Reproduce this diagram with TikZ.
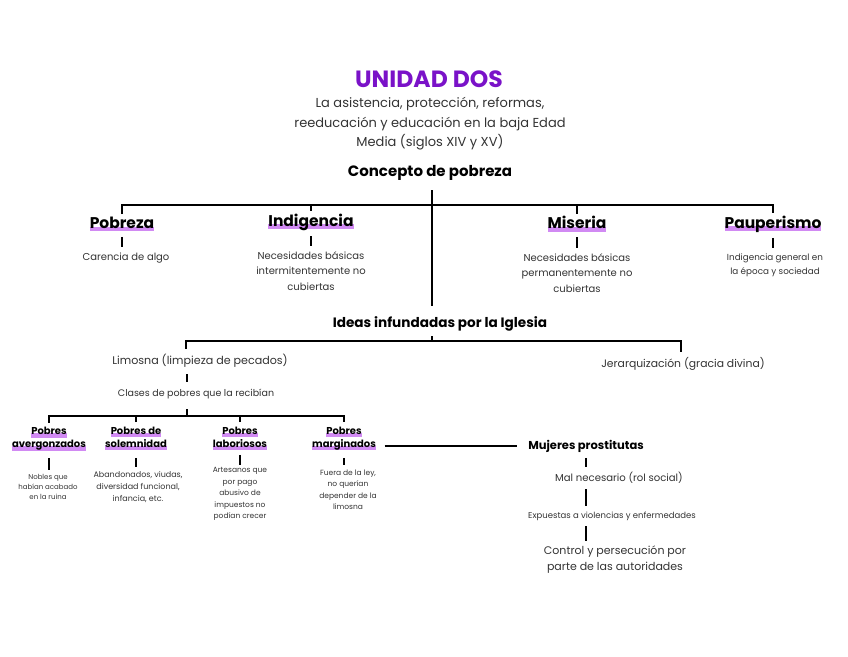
\documentclass[tikz,border=0pt]{standalone}
\usepackage{fontspec}
\setmainfont{Poppins}
\usepackage{tikz}
\usetikzlibrary{positioning}

\definecolor{titlepurple}{HTML}{7A12C8}
\definecolor{hlpurple}{HTML}{D18AF3}
\definecolor{inkgray}{HTML}{333333}

% purple marker under a word
\newlength\mkwd
\newcommand\mk[1]{\settowidth\mkwd{#1}\rlap{\textcolor{hlpurple}{\rule[-2.8pt]{\mkwd}{4.5pt}}}#1}

\begin{document}
\begin{tikzpicture}[x=1pt, y=-1pt, line width=1.4pt,
  every node/.style={inner sep=0pt, text=inkgray},
  head/.style={font=\bfseries\fontsize{15.5}{18}\selectfont, text=black},
  sub/.style={font=\bfseries\fontsize{10}{13}\selectfont, text=black, align=center},
  desc/.style={font=\fontsize{10}{15.5}\selectfont, align=center},
  small/.style={font=\fontsize{7.5}{11.5}\selectfont, align=center},
  stem/.style={shorten <=5pt, shorten >=5pt}]
  \useasboundingbox (0,0) rectangle (848,656);
  % title block
  \node[font=\bfseries\fontsize{23.5}{26}\selectfont, text=titlepurple] (titulo) at (429,79) {UNIDAD DOS};
  \node[font=\fontsize{13}{19.5}\selectfont, align=center] (subtitulo) at (430,124)
    {La asistencia, protección, reformas,\\ reeducación y educación en la baja Edad\\ Media (siglos XIV y XV)};
  \node[font=\bfseries\fontsize{15}{18}\selectfont, text=black] (concepto) at (430,173) {Concepto de pobreza};
  % first level
  \coordinate (barra1) at (432,205);
  \node[head] (pobreza) at (122,224) {\mk{Pobreza}};
  \node[head] (indig) at (311,222) {\mk{Indigencia}};
  \node[head] (miseria) at (577,224) {\mk{Miseria}};
  \node[head] (pauper) at (773,224) {\mk{Pauperismo}};
  \draw ([yshift=2pt]pobreza.north) -- (pobreza.north |- barra1) -- (pauper.north |- barra1) -- ([yshift=2pt]pauper.north);
  \foreach \n in {indig, miseria}
    \draw ([yshift=2pt]\n.north) -- (\n.north |- barra1);
  \node[desc] (carencia) at (126,258) {Carencia de algo};
  \node[desc] (necint) at (311,271) {Necesidades básicas\\ intermitentemente no\\ cubiertas};
  \node[desc] (necperm) at (577,273) {Necesidades básicas\\ permanentemente no\\ cubiertas};
  \node[desc, font=\fontsize{8.8}{14}\selectfont] (indgen) at (775,265) {Indigencia general en\\ la época y sociedad};
  \draw[stem] (pobreza.south) -- (pobreza.south |- carencia.north);
  \draw[stem] (indig.south) -- (indig.south |- necint.north);
  \draw[stem] (miseria.south) -- (miseria.south |- necperm.north);
  \draw[stem] (pauper.south) -- (pauper.south |- indgen.north);
  % ideas of the Church
  \node[font=\bfseries\fontsize{13.6}{16}\selectfont, text=black] (ideas) at (440,324) {Ideas infundadas por la Iglesia};
  \draw[shorten <=9pt, shorten >=10pt] (concepto.south -| barra1) -- (ideas.north -| barra1);
  \coordinate (barra2) at (432,341);
  \node[font=\fontsize{11.1}{14}\selectfont] (limosna) at (200,361) {Limosna (limpieza de pecados)};
  \node[font=\fontsize{10.8}{13}\selectfont] (jerarq) at (683,364) {Jerarquización (gracia divina)};
  \draw ([xshift=-14pt,yshift=5pt]limosna.north) -- ([xshift=-14pt]limosna.north |- barra2)
    -- ([xshift=-2pt]jerarq.north |- barra2) -- ([xshift=-2pt,yshift=5pt]jerarq.north);
  \draw[shorten >=4pt] (barra2) -- (barra2 |- ideas.south);
  \node[font=\fontsize{9.5}{12}\selectfont] (clases) at (196,394) {Clases de pobres que la recibían};
  \draw[shorten <=6pt, shorten >=6pt] ([xshift=-13pt]limosna.south) -- ([xshift=-13pt]limosna.south |- clases.north);
  % kinds of poor
  \coordinate (barra3) at (187,416);
  \node[sub] (avergon) at (49,439) {\mk{Pobres}\\ \mk{avergonzados}};
  \node[sub] (solemn) at (136,438.5) {\mk{Pobres de}\\ \mk{solemnidad}};
  \node[sub] (labor) at (240,438.5) {\mk{Pobres}\\ \mk{laboriosos}};
  \node[sub] (margin) at (344,438.5) {\mk{Pobres}\\ \mk{marginados}};
  \draw[shorten >=9pt] (barra3) -- (barra3 |- clases.south);
  \draw ([yshift=4pt]avergon.north) -- (avergon.north |- barra3) -- (margin.north |- barra3) -- ([yshift=4pt]margin.north);
  \foreach \n in {solemn, labor}
    \draw ([yshift=4pt]\n.north) -- (\n.north |- barra3);
  \node[small, font=\fontsize{7}{10}\selectfont] (nobles) at (48,487) {Nobles que\\ habían acabado\\ en la ruina};
  \node[small, font=\fontsize{8}{12}\selectfont] (abandon) at (138,487) {Abandonados, viudas,\\ diversidad funcional,\\ infancia, etc.};
  \node[small] (artesanos) at (240,494) {Artesanos que\\ por pago\\ abusivo de\\ impuestos no\\ podían crecer};
  \node[small] (fuera) at (348,490) {Fuera de la ley,\\ no querían\\ depender de la\\ limosna};
  \draw[shorten <=7pt, shorten >=4pt] (avergon.south) -- (avergon.south |- nobles.north);
  \draw[shorten <=7pt, shorten >=4pt] (solemn.south) -- (solemn.south |- abandon.north);
  \draw[shorten <=4pt, shorten >=9pt] (labor.south) -- (labor.south |- nobles.north);
  \draw[shorten <=7pt, shorten >=4pt] (margin.south) -- (margin.south |- fuera.north);
  % prostitution branch
  \node[font=\bfseries\fontsize{11.5}{14}\selectfont, text=black] (mujeres) at (586,446) {Mujeres prostitutas};
  \draw[shorten <=8pt, shorten >=11pt] (margin.east |- mujeres) -- (mujeres.west);
  \node[font=\fontsize{10.1}{13}\selectfont] (malnec) at (619,478) {Mal necesario (rol social)};
  \node[font=\fontsize{8.5}{11}\selectfont] (expuestas) at (612,516) {Expuestas a violencias y enfermedades};
  \node[font=\fontsize{11}{16}\selectfont, align=center] (control) at (615,560) {Control y persecución por\\ parte de las autoridades};
  \draw[stem] (mujeres.south) -- (mujeres.south |- malnec.north);
  \draw[stem] (mujeres.south |- malnec.south) -- (mujeres.south |- expuestas.north);
  \draw[stem] (mujeres.south |- expuestas.south) -- (mujeres.south |- control.north);
\end{tikzpicture}
\end{document}
